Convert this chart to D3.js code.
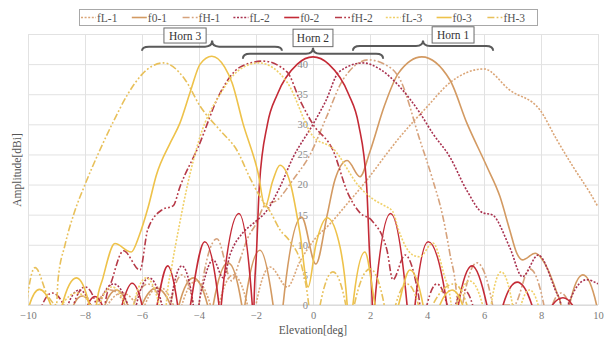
<!DOCTYPE html>
<html>
<head>
<meta charset="utf-8">
<script src="https://cdn.jsdelivr.net/npm/d3@7/dist/d3.min.js"></script>
<style>
  body { margin: 0; background: #fff; }
  text { font-family: "Liberation Serif", "Times New Roman", serif; }
</style>
</head>
<body>
<div id="graph-container"></div>
<script>
// Series names (legend order) and axis ticks
const seriesNames = ["fL-1", "f0-1", "fH-1", "fL-2", "f0-2", "fH-2", "fL-3", "f0-3", "fH-3"];
const xTicks = [-10, -8, -6, -4, -2, 0, 2, 4, 6, 8, 10];
const yTicks = [0, 5, 10, 15, 20, 25, 30, 35, 40, 45];
const yLabels = [0, 5, 10, 15, 20, 25, 30, 35, 40];  // 45 sits under the Horn 2 box
const hornLabels = ["Horn 3", "Horn 2", "Horn 1"];

// [elevation deg, amplitude dBi]; nulls dip below 0 and get clipped
const fL1 = [[-7.35,-8],[-7.2,0],[-6.7,2],[-6.2,0],[-6.05,-8],[-5.9,0],[-5.4,3],[-4.9,0],[-4.75,-8],[-4.6,0],
  [-4.1,4],[-3.6,0],[-3.45,-8],[-3.3,0],[-2.8,5],[-2.3,0],[-2.15,-8],[-2.0,0],[-1.5,6.3],[-0.9,3],[-0.46,7.2],
  [0.07,11],[0.6,13.5],[1.2,16.8],[1.9,20.8],[2.6,25.2],[3.05,27.9],[4.0,32.9],[4.8,36.9],[6.0,39.2],[6.9,35.7],
  [7.96,32.4],[8.56,27.4],[9.12,23],[9.72,18.6],[10,16.3]];
const f01 = [[-8.6,-8],[-8.4,0],[-8.1,1.5],[-7.8,0],[-7.55,-8],[-7.3,0],[-6.9,2.5],[-6.5,0],[-6.3,-8],[-6.0,0],
  [-5.5,2.8],[-5.0,0],[-4.85,-8],[-4.7,0],[-4.2,4.5],[-3.7,0],[-3.6,-8],[-3.5,0],[-2.98,7],[-2.5,0],[-2.45,-8],
  [-2.39,0],[-1.86,9.1],[-1.4,0],[-1.2,-8],[-1.05,0],[-0.4,14.6],[0.1,6.8],[0.5,15],[0.77,20.8],[1.2,24],
  [1.65,21.3],[2.0,25.5],[2.5,33],[3.0,38.5],[3.82,41.2],[4.8,37.4],[5.4,30.2],[6.1,23],[6.56,18],[6.9,12.5],
  [7.15,8.6],[7.35,7.5],[7.8,8.6],[8.2,6.3],[8.56,2],[8.7,0],[8.85,-8],[9.0,0],[9.47,5],[9.95,0],[10.1,-8]];
const fH1 = [[-7.75,-8],[-7.6,0],[-7.1,2.5],[-6.6,0],[-6.45,-8],[-6.3,0],[-5.8,3.5],[-5.3,0],[-5.15,-8],[-5.0,0],
  [-4.6,5],[-4.2,0],[-4.1,-8],[-4.0,0],[-3.37,11],[-2.85,4],[-2.6,7],[-2.3,11],[-2.0,13.5],[-1.7,16.5],
  [-1.26,17.4],[-0.7,20.8],[-0.1,25],[0.48,31.3],[1.05,37.4],[1.95,40.7],[2.5,40],[3.05,37.5],[3.75,27.4],
  [4.2,20.8],[4.56,14.6],[4.8,8.6],[5.05,1],[5.12,-8],[5.25,0],[5.75,7],[6.3,0],[6.45,-8],[6.6,0],[7.05,0],
  [7.6,6],[8.1,0],[8.25,-8],[8.4,0],[8.7,2],[9.0,0],[9.15,-8]];
const fL2 = [[-8.8,-8],[-8.6,0],[-8.2,2.5],[-7.8,0],[-7.65,-8],[-7.5,0],[-7.0,3.5],[-6.5,0],[-6.35,-8],[-6.2,0],
  [-5.75,4.5],[-5.3,0],[-5.15,-8],[-5.0,0],[-4.6,6.5],[-4.2,0],[-4.1,-8],[-4.0,0],[-3.85,3.5],[-3.5,7.5],
  [-3.15,4.5],[-2.9,8.5],[-2.46,12],[-2.03,13.8],[-1.6,15.8],[-1.2,19.2],[-0.7,24.5],[0,30],[0.46,34],
  [0.91,38.7],[1.75,40.2],[2.4,39],[3.05,36.2],[3.75,31.9],[4.2,28.5],[4.8,24.6],[5.4,19],[5.96,15.3],
  [6.28,15],[6.9,9.6],[7.35,4.7],[7.9,8.3],[8.5,2.5],[8.7,0],[8.8,-8],[8.95,0],[9.6,4.2],[10,3.5]];
const f02 = [[-8.1,-8],[-7.9,0],[-7.65,1.4],[-7.4,0],[-7.05,-8],[-6.7,0],[-6.35,3.6],[-6.0,0],[-5.75,-8],
  [-5.47,0],[-5.1,6.5],[-4.75,0],[-4.55,-8],[-4.3,0],[-3.8,10.5],[-3.3,0],[-3.26,-8],[-3.22,0],[-2.6,15.2],
  [-2.13,0],[-2.1,-8],[-2.07,0],[-1.98,9],[-1.88,20],[-1.6,30],[-1.25,35],[-0.55,40],[0,41.2],[0.55,40],
  [1.25,35],[1.6,30],[1.88,20],[1.98,9],[2.08,0],[2.12,-8],[2.16,0],[2.72,15.2],[3.3,0],[3.44,-8],[3.58,0],
  [4.04,10.5],[4.7,0],[4.9,-8],[5.1,0],[5.58,6.5],[6.1,0],[6.4,-8],[6.67,0],[7.16,3.8],[7.68,0],[8.05,-8],
  [8.4,0],[8.77,1.2],[9.1,0],[9.3,-8]];
const fH2 = [[-9.75,-8],[-9.5,0],[-9.15,2],[-8.75,0],[-8.6,-8],[-8.4,0],[-8.0,3],[-7.6,0],[-7.45,-8],[-7.3,0],
  [-7.05,4.2],[-6.65,9],[-6.07,5.8],[-5.8,12.5],[-5.3,15.8],[-4.9,16.5],[-4.67,19.6],[-4.03,26.2],[-3.26,35.2],
  [-2.56,39.5],[-1.75,40.5],[-0.91,38.7],[-0.46,34],[0,30],[0.7,25.7],[1.23,18.5],[1.65,15.3],[2.07,14],
  [2.6,9],[2.8,4.2],[3.23,8.3],[3.6,4],[3.75,0],[3.9,-8],[4.0,0],[4.35,3.5],[4.7,0],[4.85,-8],[5.0,0],
  [5.3,2.5],[5.6,0],[5.75,-8]];
const fL3 = [[-9.0,-8],[-8.8,0],[-8.3,2],[-7.8,0],[-7.65,-8],[-7.5,0],[-7.05,3],[-6.6,0],[-6.45,-8],[-6.3,0],
  [-5.85,4.5],[-5.4,0],[-5.25,-8],[-5.15,0],[-4.95,6.5],[-4.7,13],[-4.4,20],[-3.96,28],[-3.26,35],[-2.6,39],
  [-1.9,40.2],[-0.91,37],[0,28],[0.7,26],[1.65,19.5],[2.1,17.6],[2.5,16.5],[2.8,15.5],[3.0,12.5],[3.5,8.3],
  [3.75,8],[4.2,10.3],[4.6,5],[4.85,0],[4.95,-8],[5.05,0],[5.5,4],[5.95,0],[6.1,-8],[6.25,0],[6.6,5.5],
  [7.0,0],[7.15,-8],[7.3,0],[7.6,2.5],[7.9,0],[8.0,-8]];
const f03 = [[-10.1,-8],[-9.95,0],[-9.6,2.6],[-9.2,0],[-9.0,-8],[-8.8,0],[-8.3,4.5],[-7.85,0],[-7.72,-8],
  [-7.6,0],[-7.37,4.5],[-6.95,10.2],[-6.38,8.8],[-6.1,11.5],[-5.78,16.3],[-5.5,21.5],[-5.0,27],[-4.67,30.2],
  [-4.3,35.5],[-3.96,40],[-3.55,41.3],[-3.1,39.5],[-2.84,36.9],[-2.46,30.2],[-1.93,22],[-1.68,16.3],
  [-1.42,20.5],[-1.16,23.2],[-0.8,20.3],[-0.46,12],[-0.17,3],[0.1,10],[0.5,14.5],[0.95,9.6],[1.2,0],
  [1.3,-8],[1.4,0],[1.82,8.8],[2.18,0],[2.6,-8],[3.0,0],[3.4,5.8],[3.86,0],[4.1,-8],[4.45,0],[4.88,2.5],
  [5.25,0],[5.4,-8]];
const fH3 = [[-10.2,-8],[-10.05,0],[-9.75,6.2],[-9.3,1.5],[-9.0,0],[-8.95,4],[-8.7,10],[-8.4,15],[-8.0,20],
  [-7.5,25.5],[-7.0,30.5],[-6.5,35],[-6.0,38.3],[-5.25,40.2],[-4.5,37.5],[-3.96,33],[-3.26,29],[-2.67,25.7],
  [-2.2,21],[-1.86,18],[-1.5,15.5],[-1.16,12.5],[-0.8,10.5],[-0.4,6.5],[-0.15,0],[0,-8],[0.25,0],[0.7,5.5],
  [1.15,0],[1.3,-8],[1.45,0],[2.0,6],[2.5,0],[2.7,-8],[2.9,0],[3.3,3.5],[3.7,0],[3.9,-8],[4.2,0],[4.95,3.5],
  [5.4,0],[5.6,-8]];
const seriesData = [fL1, f01, fH1, fL2, f02, fH2, fL3, f03, fH3];

// Styles per series
const colors = ["#dba678", "#d39a62", "#d6a27c", "#a8304e", "#c42a36", "#b63a48", "#f0d068", "#eec24a", "#e8c05a"];
const dots = "2,1.6";
const dashDot = "7,2.2,1.8,2.2,1.8,2.2";
const dashes = [dots, null, dashDot, dots, null, dashDot, dots, null, dashDot];

// Chart dimensions
const W = 610, H = 337;
const margin = { top: 34, right: 12, bottom: 32, left: 28 };
const width = W - margin.left - margin.right;
const height = H - margin.top - margin.bottom;

const x = d3.scaleLinear().domain([-10, 10]).range([0, width]);
const y = d3.scaleLinear().domain([0, 45]).range([height, 0]);

const root = d3.select("#graph-container").append("svg")
    .attr("width", W)
    .attr("height", H);

const svg = root.append("g")
    .attr("transform", `translate(${margin.left},${margin.top})`);

// Gridlines
svg.append("g")
    .attr("transform", `translate(0,${height})`)
    .call(d3.axisBottom(x).tickValues(xTicks).tickSize(-height).tickFormat(""))
    .call(g => g.select(".domain").remove())
    .call(g => g.selectAll("line").attr("stroke", "#e2e2e2"));

svg.append("g")
    .call(d3.axisLeft(y).tickValues(yTicks).tickSize(-width).tickFormat(""))
    .call(g => g.select(".domain").remove())
    .call(g => g.selectAll("line").attr("stroke", "#e2e2e2"));

// Baseline
svg.append("line")
    .attr("x1", 0).attr("x2", width)
    .attr("y1", y(0)).attr("y2", y(0))
    .attr("stroke", "#d4d4d4");

// x axis labels
svg.append("g")
    .attr("transform", `translate(0,${height})`)
    .call(d3.axisBottom(x).tickValues(xTicks).tickSize(0).tickPadding(7))
    .call(g => g.select(".domain").remove())
    .call(g => g.selectAll("text").attr("fill", "#7a7a7a").style("font-size", "10.5px")
        .style("font-family", "'Liberation Serif', serif"));

// y axis labels sit on the 0 deg line
svg.append("g")
    .attr("transform", `translate(${x(0)},0)`)
    .call(d3.axisLeft(y).tickValues(yLabels).tickSize(0).tickPadding(5))
    .call(g => g.select(".domain").remove())
    .call(g => g.selectAll("text").attr("fill", "#8a8a8a").style("font-size", "10.5px")
        .style("font-family", "'Liberation Serif', serif"));

// Clip the curves to the plot area
svg.append("clipPath").attr("id", "plot-clip")
  .append("rect")
    .attr("x", 0).attr("y", 0)
    .attr("width", width).attr("height", height);

const line = d3.line()
    .x(d => x(d[0]))
    .y(d => y(d[1]))
    .curve(d3.curveMonotoneX);

const curves = svg.append("g").attr("clip-path", "url(#plot-clip)");
seriesData.forEach((data, i) => {
  curves.append("path")
      .datum(data)
      .attr("fill", "none")
      .attr("stroke", colors[i])
      .attr("stroke-width", 1.6)
      .attr("stroke-dasharray", dashes[i])
      .attr("d", line);
});

// Braces and Horn labels
const braces = [
  { x1: -6.0, x2: -1.09, tip: -3.54, yEnd: 42.2, yLine: 42.9, yTip: 43.9, bx1: -5.23, bx2: -3.75, by1: 46.0, by2: 43.5 },
  { x1: -2.46, x2: 2.46, tip: 0, yEnd: 40.9, yLine: 41.7, yTip: 42.7, bx1: -0.70, bx2: 0.70, by1: 45.8, by2: 42.9 },
  { x1: 1.4, x2: 6.32, tip: 3.86, yEnd: 42.2, yLine: 43.0, yTip: 43.9, bx1: 4.18, bx2: 5.65, by1: 46.2, by2: 43.5 }
];

braces.forEach((b, i) => {
  const a = x(b.x1), c = x(b.x2), m = x(b.tip);
  const ye = y(b.yEnd), yl = y(b.yLine), yt = y(b.yTip);
  const r = 7;
  const p = d3.path();
  p.moveTo(a, ye);
  p.quadraticCurveTo(a, yl, a + r, yl);
  p.lineTo(m - r, yl);
  p.quadraticCurveTo(m, yl, m, yt);
  p.quadraticCurveTo(m, yl, m + r, yl);
  p.lineTo(c - r, yl);
  p.quadraticCurveTo(c, yl, c, ye);
  svg.append("path")
      .attr("d", p.toString())
      .attr("fill", "none")
      .attr("stroke", "#5a5a5a")
      .attr("stroke-width", 2);

  svg.append("rect")
      .attr("x", x(b.bx1)).attr("y", y(b.by1))
      .attr("width", x(b.bx2) - x(b.bx1))
      .attr("height", y(b.by2) - y(b.by1))
      .attr("fill", "#fff")
      .attr("stroke", "#6a6a6a");
  svg.append("text")
      .attr("x", (x(b.bx1) + x(b.bx2)) / 2)
      .attr("y", (y(b.by1) + y(b.by2)) / 2 + 4)
      .attr("text-anchor", "middle")
      .attr("fill", "#333")
      .style("font-size", "11.5px")
      .text(hornLabels[i]);
});

// Axis titles
root.append("text")
    .attr("x", margin.left + x(0))
    .attr("y", 334)
    .attr("text-anchor", "middle")
    .attr("fill", "#555")
    .style("font-size", "11.5px")
    .text("Elevation[deg]");

root.append("text")
    .attr("transform", "translate(21,170) rotate(-90)")
    .attr("text-anchor", "middle")
    .attr("fill", "#555")
    .style("font-size", "11.5px")
    .text("Amplitude[dBi]");

// Legend
const legend = root.append("g");
legend.append("rect")
    .attr("x", 79.5).attr("y", 9.5)
    .attr("width", 458).attr("height", 16)
    .attr("fill", "#fff")
    .attr("stroke", "#a8a8a8");

seriesNames.forEach((name, i) => {
  const tx = 97 + i * 50.8;
  legend.append("line")
      .attr("x1", tx - 16).attr("x2", tx - 1)
      .attr("y1", 17.5).attr("y2", 17.5)
      .attr("stroke", colors[i])
      .attr("stroke-width", 1.6)
      .attr("stroke-dasharray", dashes[i]);
  legend.append("text")
      .attr("x", tx).attr("y", 21.5)
      .attr("fill", "#555")
      .style("font-size", "11.5px")
      .text(name);
});
</script>
</body>
</html>
